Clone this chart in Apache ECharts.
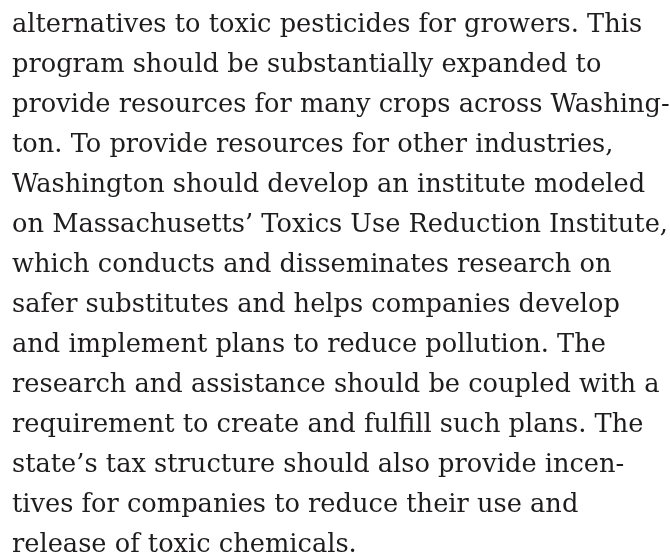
<!DOCTYPE html>
<html>
<head>
<meta charset="utf-8">
<script src="https://cdn.jsdelivr.net/npm/echarts@6/dist/echarts.min.js"></script>
<style>
  html, body { margin: 0; padding: 0; background: #fff; }
  #chart { width: 670px; height: 557px; }
</style>
</head>
<body>
<div id="chart"></div>
<script>
// text lines as set in the page
const lines = [
  'alternatives to toxic pesticides for growers. This',
  'program should be substantially expanded to',
  'provide resources for many crops across Washing-',
  'ton. To provide resources for other industries,',
  'Washington should develop an institute modeled',
  'on Massachusetts\u2019 Toxics Use Reduction Institute,',
  'which conducts and disseminates research on',
  'safer substitutes and helps companies develop',
  'and implement plans to reduce pollution. The',
  'research and assistance should be coupled with a',
  'requirement to create and fulfill such plans. The',
  'state\u2019s tax structure should also provide incen-',
  'tives for companies to reduce their use and',
  'release of toxic chemicals.'
];

const fontFamily = 'DejaVu Serif';
const fontSize = 25.5;
const left = 12;
const firstMid = 25.5;
const pitch = 40;

// squeeze the wide font so the longest line fits its measured width
const ctx = document.createElement('canvas').getContext('2d');
ctx.font = fontSize + 'px "' + fontFamily + '"';
const longW = ctx.measureText(lines[5]).width;
const sx = 656 / longW;

const myChart = echarts.init(document.getElementById('chart'));

const elements = lines.map((t, i) => ({
  type: 'text',
  x: left,
  y: firstMid + i * pitch,
  scaleX: sx,
  style: {
    text: t,
    fill: '#1e1c1d',
    font: fontSize + 'px "' + fontFamily + '"',
    verticalAlign: 'middle'
  }
}));

myChart.setOption({
  backgroundColor: '#ffffff',
  graphic: { elements: elements }
});
</script>
</body>
</html>
